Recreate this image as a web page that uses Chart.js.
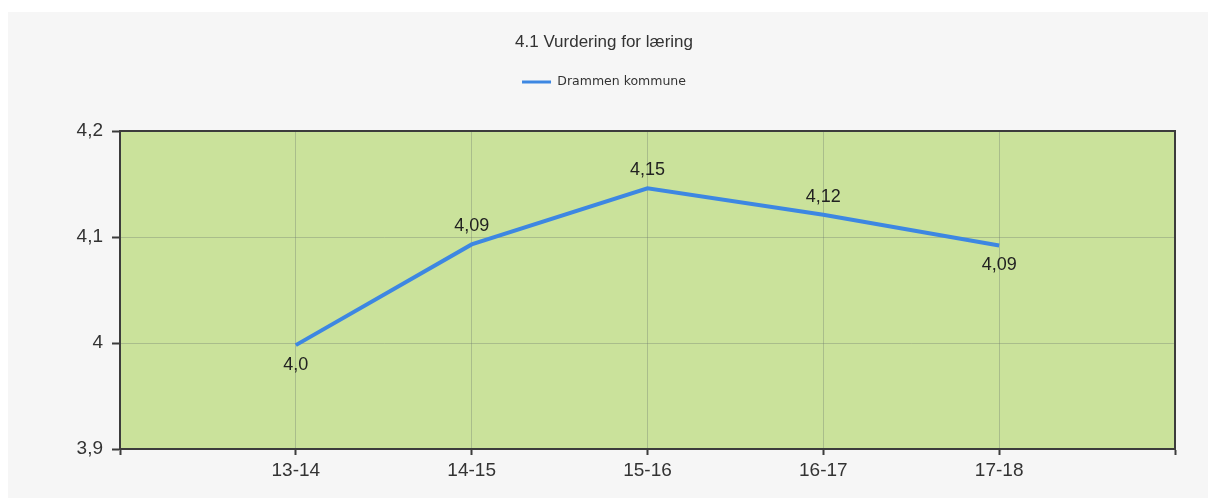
<!DOCTYPE html>
<html>
<head>
<meta charset="utf-8">
<script src="https://cdn.jsdelivr.net/npm/chart.js@4.4.1/dist/chart.umd.min.js"></script>
<style>
  html, body { margin: 0; padding: 0; background: #ffffff; }
  #wrap { position: relative; width: 1208px; height: 504px; }
  #bg { position: absolute; left: 8px; top: 12px; right: 0; bottom: 6px; background: #f6f6f6; }
  canvas { position: absolute; left: 0; top: 0; }
</style>
</head>
<body>
<div id="wrap">
  <div id="bg"></div>
  <canvas id="myChart" width="1208" height="504"></canvas>
</div>
<script>
// data
const seasons = ["13-14", "14-15", "15-16", "16-17", "17-18"];
const drammenValues = [3.998, 4.093, 4.146, 4.121, 4.092];
const drammenLabels = ["4,0", "4,09", "4,15", "4,12", "4,09"];
const yTicks = [3.9, 4.0, 4.1, 4.2];

const plotGreen = "#cae29b";
const axisDark = "#3c3c3c";
const gridGray = "rgba(110,120,110,0.35)";
const lineBlue = "#3d87e2";

//green plot area
const plotBackground = {
  id: "plotBackground",
  beforeDraw(chart) {
    const { ctx, chartArea } = chart;
    ctx.save();
    ctx.fillStyle = plotGreen;
    ctx.fillRect(chartArea.left, chartArea.top, chartArea.right - chartArea.left, chartArea.bottom - chartArea.top);
    ctx.restore();
  },
};

//value labels next to each point
const valueLabels = {
  id: "valueLabels",
  afterDatasetsDraw(chart, args, opts) {
    const { ctx } = chart;
    const meta = chart.getDatasetMeta(0);
    ctx.save();
    ctx.font = "18px 'Liberation Sans', Arial, sans-serif";
    ctx.fillStyle = "#222";
    ctx.textAlign = "center";
    ctx.textBaseline = "middle";
    meta.data.forEach((pt, i) => {
      const below = opts.below.includes(i);
      ctx.fillText(drammenLabels[i], pt.x, pt.y + (below ? 20 : -18));
    });
    ctx.restore();
  },
};

const ctx = document.getElementById("myChart");

new Chart(ctx, {
  type: "line",
  data: {
    datasets: [
      {
        label: "Drammen kommune",
        data: drammenValues.map((v, i) => ({ x: i + 1, y: v })),
        borderColor: lineBlue,
        backgroundColor: lineBlue,
        borderWidth: 4,
        pointRadius: 0,
        tension: 0,
        xAxisID: "x",
        yAxisID: "y",
      },
    ],
  },
  options: {
    responsive: false,
    animation: false,
    layout: { padding: 0 },
    plugins: {
      title: {
        display: true,
        text: "4.1 Vurdering for læring",
        color: "#333",
        font: { family: "'Liberation Sans', Arial, sans-serif", size: 17, weight: "normal" },
        padding: { top: 32, bottom: 13.35 },
      },
      legend: {
        display: true,
        labels: {
          color: "#333",
          boxWidth: 29,
          boxHeight: 3,
          padding: 10,
          font: { family: "'DejaVu Sans', sans-serif", size: 12.5 },
          generateLabels(chart) {
            let items = Chart.defaults.plugins.legend.labels.generateLabels(chart);
            items.forEach((it) => { it.lineWidth = 0; });
            return items;
          },
        },
      },
      tooltip: { enabled: false },
      valueLabels: { below: [0, 4] },
    },
    scales: {
      x: {
        type: "linear",
        position: "bottom",
        min: 0,
        max: 6,
        afterBuildTicks(scale) {
          scale.ticks = [0, 1, 2, 3, 4, 5, 6].map((v) => ({ value: v }));
        },
        afterFit(scale) { scale.height = 55; },
        ticks: {
          color: "#333",
          padding: 4,
          font: { family: "'Liberation Sans', Arial, sans-serif", size: 19 },
          callback: (v) => seasons[v - 1] || "",
        },
        grid: {
          color: (c) => (c.tick && (c.tick.value === 0 || c.tick.value === 6) ? "transparent" : gridGray),
          tickColor: axisDark,
          tickLength: 6,
          tickWidth: 2,
        },
        border: { display: true, color: axisDark, width: 2 },
      },
      x2: {
        type: "linear",
        position: "top",
        min: 0,
        max: 1,
        afterFit(scale) { scale.height = 32.75; },
        ticks: { display: false },
        grid: { display: true, drawOnChartArea: false, color: "transparent", tickLength: 0 },
        border: { display: true, color: axisDark, width: 2 },
      },
      y: {
        type: "linear",
        position: "left",
        min: 3.9,
        max: 4.2,
        afterBuildTicks(scale) {
          scale.ticks = yTicks.map((v) => ({ value: v }));
        },
        afterFit(scale) { scale.width = 120; },
        ticks: {
          color: "#333",
          padding: 9,
          font: { family: "'Liberation Sans', Arial, sans-serif", size: 19 },
          callback: (v) => String(+v.toFixed(1)).replace(".", ","),
        },
        grid: {
          color: gridGray,
          tickColor: axisDark,
          tickLength: 8,
          tickWidth: 2,
        },
        border: { display: true, color: axisDark, width: 2 },
      },
      y2: {
        type: "linear",
        position: "right",
        min: 0,
        max: 1,
        afterFit(scale) { scale.width = 33; },
        ticks: { display: false },
        grid: { display: true, drawOnChartArea: false, color: "transparent", tickLength: 0 },
        border: { display: true, color: axisDark, width: 2 },
      },
    },
  },
  plugins: [plotBackground, valueLabels],
});
</script>
</body>
</html>
